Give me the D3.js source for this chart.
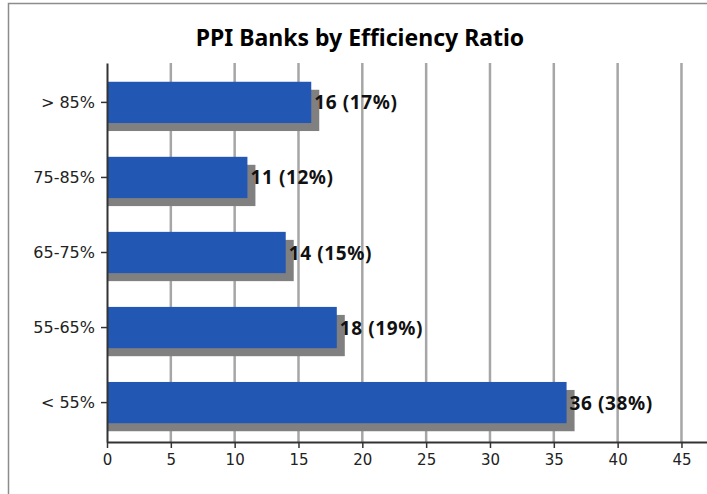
<!DOCTYPE html>
<html>
<head>
<meta charset="utf-8">
<script src="https://cdn.jsdelivr.net/npm/d3@7"></script>
<style>
  body { margin: 0; background: #fff; }
  svg { display: block; font-family: "DejaVu Sans", sans-serif; }
</style>
</head>
<body>
<div id="chart"></div>
<script>
var categories = ['> 85%', '75-85%', '65-75%', '55-65%', '< 55%'];
var counts = [16, 11, 14, 18, 36];
var shares = [17, 12, 15, 19, 38];
var xTicks = [0, 5, 10, 15, 20, 25, 30, 35, 40, 45];

var width = 707, height = 494
  , plot = { left: 107, right: 707, top: 63, bottom: 442 }
  , shadow = 8;

var data = categories.map(function(c, i) {
  return { cat: c, value: counts[i], pct: shares[i] };
});

var svg = d3.select('#chart').append('svg')
    .attr('width', width)
    .attr('height', height);

// outer frame
svg.append('path')
    .attr('d', 'M8.5,' + height + 'V3.5H' + width)
    .attr('fill', 'none')
    .attr('stroke', '#8c8c8c')
    .attr('stroke-width', 1.5);

svg.append('text')
    .attr('x', 360)
    .attr('y', 46)
    .attr('text-anchor', 'middle')
    .style('font-family', '"Noto Sans", sans-serif')
    .style('font-size', '23px')
    .style('font-weight', 'bold')
    .text('PPI Banks by Efficiency Ratio');

var x = d3.scaleLinear()
    .domain([0, 47])
    .range([plot.left, plot.right]);

var y = d3.scaleBand()
    .domain(categories)
    .range([plot.top, plot.bottom])
    .paddingInner(0.45)
    .paddingOuter(0.25);

// grid lines
svg.append('g')
  .selectAll('line')
  .data(xTicks.slice(1))
  .enter().append('line')
    .attr('x1', d => x(d))
    .attr('x2', d => x(d))
    .attr('y1', plot.top)
    .attr('y2', plot.bottom)
    .attr('stroke', '#a6a6a6')
    .attr('stroke-width', 2.5);

// shadows
svg.append('g')
  .selectAll('rect')
  .data(data)
  .enter().append('rect')
    .attr('x', x(0))
    .attr('y', d => y(d.cat) + shadow)
    .attr('width', d => x(d.value) - x(0) + shadow)
    .attr('height', y.bandwidth())
    .attr('fill', '#808080');

// bars
svg.append('g')
  .selectAll('rect')
  .data(data)
  .enter().append('rect')
    .attr('x', x(0))
    .attr('y', d => y(d.cat))
    .attr('width', d => x(d.value) - x(0))
    .attr('height', y.bandwidth())
    .attr('fill', '#2357b4');

// value labels
svg.append('g')
  .selectAll('text')
  .data(data)
  .enter().append('text')
    .attr('x', d => x(d.value) + 3)
    .attr('y', d => y(d.cat) + y.bandwidth() / 2 + 7)
    .style('font-family', '"Noto Sans", sans-serif')
    .style('font-size', '19px')
    .style('font-weight', 'bold')
    .style('letter-spacing', '0.6px')
    .attr('fill', '#111')
    .text(d => d.value + ' (' + d.pct + '%)');

// x axis
var ax = svg.append('g')
    .attr('transform', 'translate(0,' + plot.bottom + ')')
    .call(d3.axisBottom(x).tickValues(xTicks).tickSize(6).tickSizeOuter(0));
ax.select('.domain').attr('stroke', '#333').attr('stroke-width', 2);
ax.selectAll('.tick line').attr('stroke', '#333').attr('stroke-width', 1.5);
ax.selectAll('.tick text')
    .attr('dy', '0.95em')
    .style('font-size', '15px')
    .style('font-family', '"DejaVu Sans", sans-serif')
    .attr('fill', '#222');

// y axis
var ay = svg.append('g')
    .attr('transform', 'translate(' + plot.left + ',0)')
    .call(d3.axisLeft(y).tickSize(6).tickSizeOuter(0).tickPadding(6));
ay.select('.domain').attr('stroke', '#333').attr('stroke-width', 2);
ay.selectAll('.tick line').attr('stroke', '#333').attr('stroke-width', 1.5);
ay.selectAll('.tick text')
    .style('font-size', '16px')
    .style('font-family', '"DejaVu Sans", sans-serif')
    .attr('fill', '#222');
</script>
</body>
</html>
